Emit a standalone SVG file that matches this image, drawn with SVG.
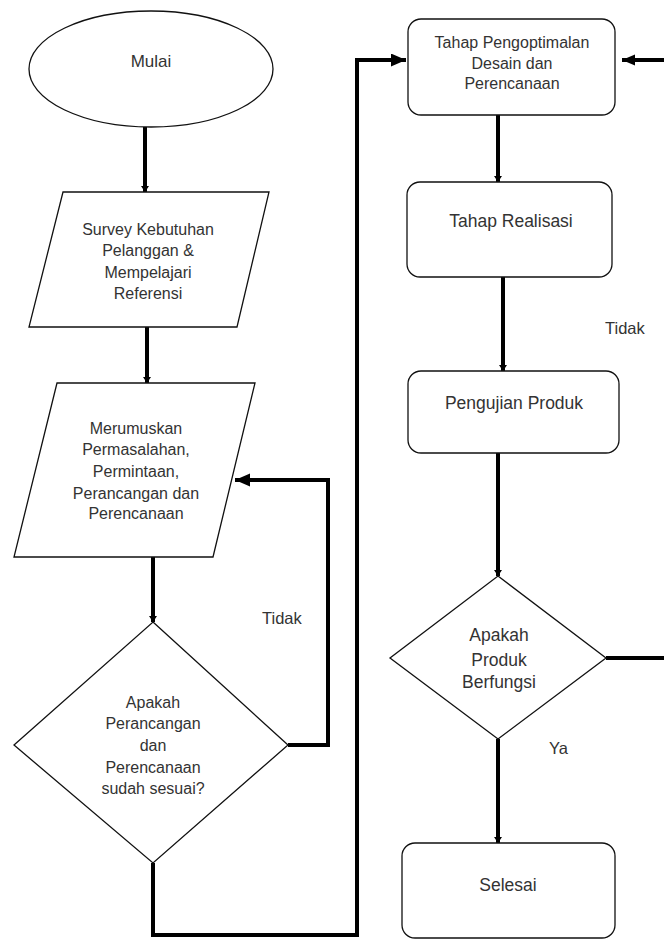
<svg xmlns="http://www.w3.org/2000/svg" width="664" height="941" viewBox="0 0 664 941">
<style>
.shape{fill:#fff;stroke:#111;stroke-width:1.3}
.conn{fill:none;stroke:#000;stroke-width:4}
.t{font-family:"Liberation Sans",Arial,sans-serif;fill:#333;text-anchor:middle;font-size:16px}
.tr{font-size:17.5px}
.lbl{font-family:"Liberation Sans",Arial,sans-serif;fill:#333;font-size:16.5px}
</style>
<defs>
<marker id="small" markerUnits="userSpaceOnUse" markerWidth="10" markerHeight="10" refX="6" refY="4" orient="auto">
<path d="M0,0 L6,4 L0,8 Z" fill="#000"/>
</marker>
<marker id="big" markerUnits="userSpaceOnUse" markerWidth="18" markerHeight="16" refX="15" refY="6.5" orient="auto">
<path d="M0,0 L15,6.5 L0,13 Z" fill="#000"/>
</marker>
<marker id="mid" markerUnits="userSpaceOnUse" markerWidth="16" markerHeight="14" refX="13" refY="5.5" orient="auto">
<path d="M0,0 L13,5.5 L0,11 Z" fill="#000"/>
</marker>
</defs>
<rect width="664" height="941" fill="#fff"/>
<g id="connectors">
<path class="conn" d="M145,127 V192" marker-end="url(#small)"/>
<path class="conn" d="M147,327 V383" marker-end="url(#small)"/>
<path class="conn" d="M153,557 V622" marker-end="url(#small)"/>
<path class="conn" d="M288,745 H328 V480 H235" marker-end="url(#big)"/>
<path class="conn" d="M153,863 V935 H357 V60 H406" marker-end="url(#big)"/>
<path class="conn" d="M498,115 V182" marker-end="url(#small)"/>
<path class="conn" d="M503,277 V371" marker-end="url(#small)"/>
<path class="conn" d="M498,453 V576" marker-end="url(#small)"/>
<path class="conn" d="M498,739 V843" marker-end="url(#small)"/>
<path class="conn" d="M606,658 H672 V60 H622" marker-end="url(#mid)"/>
<text class="lbl" x="262" y="624">Tidak</text>
<text class="lbl" x="605" y="334">Tidak</text>
<text class="lbl" x="549" y="754">Ya</text>
</g>
<g id="mulai">
<ellipse class="shape" cx="151" cy="69" rx="122" ry="58"/>
<text class="t" x="151" y="67" style="font-size:17px">Mulai</text>
</g>
<g id="survey">
<polygon class="shape" points="63,192 269,192 237,327 29,327"/>
<text class="t" x="148" y="235">Survey Kebutuhan</text>
<text class="t" x="148" y="256">Pelanggan &amp;</text>
<text class="t" x="148" y="278">Mempelajari</text>
<text class="t" x="148" y="299">Referensi</text>
</g>
<g id="merumuskan">
<polygon class="shape" points="57,383 255,383 213,557 14,557"/>
<text class="t" x="136" y="434">Merumuskan</text>
<text class="t" x="136" y="455">Permasalahan,</text>
<text class="t" x="136" y="477">Permintaan,</text>
<text class="t" x="136" y="499">Perancangan dan</text>
<text class="t" x="136" y="519">Perencanaan</text>
</g>
<g id="keputusan1">
<polygon class="shape" points="153,622 288,745 153,863 14,745"/>
<text class="t" x="153" y="708">Apakah</text>
<text class="t" x="153" y="729">Perancangan</text>
<text class="t" x="153" y="751">dan</text>
<text class="t" x="153" y="773">Perencanaan</text>
<text class="t" x="153" y="794">sudah sesuai?</text>
</g>
<g id="optimasi">
<rect class="shape" x="408" y="19" width="207" height="96" rx="13"/>
<text class="t" x="512" y="48">Tahap Pengoptimalan</text>
<text class="t" x="512" y="69">Desain dan</text>
<text class="t" x="512" y="89">Perencanaan</text>
</g>
<g id="realisasi">
<rect class="shape" x="407" y="182" width="205" height="95" rx="13"/>
<text class="t tr" x="511" y="227">Tahap Realisasi</text>
</g>
<g id="pengujian">
<rect class="shape" x="408" y="371" width="211" height="82" rx="13"/>
<text class="t tr" x="514" y="409">Pengujian Produk</text>
</g>
<g id="keputusan2">
<polygon class="shape" points="498,576 606,658 498,739 390,658"/>
<text class="t tr" x="499" y="641">Apakah</text>
<text class="t tr" x="499" y="666">Produk</text>
<text class="t tr" x="499" y="688">Berfungsi</text>
</g>
<g id="selesai">
<rect class="shape" x="402" y="843" width="213" height="95" rx="13"/>
<text class="t tr" x="508" y="891">Selesai</text>
</g>
</svg>
